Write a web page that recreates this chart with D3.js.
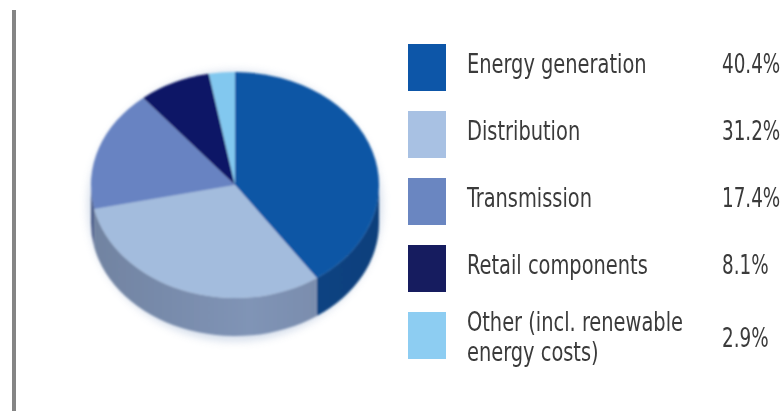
<!DOCTYPE html>
<html>
<head>
<meta charset="utf-8">
<script src="https://cdn.jsdelivr.net/npm/d3@7"></script>
<style>
  html, body { margin: 0; padding: 0; background: #ffffff; }
  svg { display: block; }
  .lbl { font-family: "DejaVu Sans Condensed", "Liberation Sans Narrow", "Roboto", sans-serif; fill: #3a3a3a; }
</style>
</head>
<body>
<svg id="chart" width="784" height="411"></svg>
<script>
// Cost components of the electricity price (share, %)
const categories = ["Energy generation", "Distribution", "Transmission", "Retail components", "Other (incl. renewable energy costs)"];
const labelLines = [["Energy generation"], ["Distribution"], ["Transmission"], ["Retail components"], ["Other (incl. renewable", "energy costs)"]];
const shares = [40.4, 31.2, 17.4, 8.1, 2.9];
const valueLabels = ["40.4%", "31.2%", "17.4%", "8.1%", "2.9%"];
const topColors = ["#0f56a5", "#a3bcdd", "#6883c2", "#111866", "#82c8ef"];
const sideColors = ["#0b4688", "#8094b6", "#56699c", "#0c1150", "#67a6c8"];
const swatchColors = ["#0b57a8", "#a8c1e3", "#6a86c1", "#121a5e", "#8dcdf2"];

const svg = d3.select("#chart");
const defs = svg.append("defs");

// soft edge + glow round the pie
const soft = defs.append("filter").attr("id", "soft").attr("x", "-10%").attr("y", "-10%").attr("width", "120%").attr("height", "120%");
soft.append("feGaussianBlur").attr("stdDeviation", 0.8);
const glow = defs.append("filter").attr("id", "glow").attr("x", "-20%").attr("y", "-20%").attr("width", "140%").attr("height", "140%");
glow.append("feGaussianBlur").attr("stdDeviation", 4);
const txtBlur = defs.append("filter").attr("id", "txtBlur");
txtBlur.append("feGaussianBlur").attr("stdDeviation", 0.45);

// left rule
svg.append("rect").attr("x", 12).attr("y", 10).attr("width", 4).attr("height", 401).attr("fill", "#858585");

// tilted pie geometry
const cx = 235, cy = 185, rx = 144, ry = 113, depth = 38;
const pie = d3.pie().sort(null).value(d => d.v).startAngle(0).endAngle(2 * Math.PI);
const data = categories.map((c, i) => ({ c, v: shares[i], i }));
const arcs = pie(data);

const g = svg.append("g");

// faint halo under the pie
g.append("ellipse")
  .attr("cx", cx).attr("cy", cy + depth / 2 + 2)
  .attr("rx", rx + 3).attr("ry", ry + depth / 2 + 3)
  .attr("fill", "#9fb3d2").attr("opacity", 0.45)
  .attr("filter", "url(#glow)");

const pieG = g.append("g").attr("filter", "url(#soft)");

// point on the top ellipse for an angle measured clockwise from 12 o'clock
const pt = (a, dy = 0) => [cx + rx * Math.sin(a), cy - ry * Math.cos(a) + dy];

// outer side walls (only the front half, angles between pi/2 and 3pi/2)
function sidePath(a0, a1) {
  const s = Math.max(a0, Math.PI / 2), e = Math.min(a1, 3 * Math.PI / 2);
  if (e <= s) return null;
  const p0 = pt(s), p1 = pt(e), q1 = pt(e, depth), q0 = pt(s, depth);
  const large = (e - s) > Math.PI ? 1 : 0;
  return `M${p0[0]},${p0[1]} A${rx},${ry} 0 ${large} 1 ${p1[0]},${p1[1]} L${q1[0]},${q1[1]} A${rx},${ry} 0 ${large} 0 ${q0[0]},${q0[1]} Z`;
}

// gradient per side wall for a little shading
arcs.forEach((d, i) => {
  const lg = defs.append("linearGradient").attr("id", "side" + i)
    .attr("gradientUnits", "userSpaceOnUse")
    .attr("x1", cx - rx).attr("y1", 0).attr("x2", cx + rx).attr("y2", 0);
  const base = d3.color(sideColors[i]);
  lg.append("stop").attr("offset", "0%").attr("stop-color", base.darker(0.35).formatHex());
  lg.append("stop").attr("offset", "55%").attr("stop-color", base.formatHex());
  lg.append("stop").attr("offset", "100%").attr("stop-color", base.darker(0.25).formatHex());
});

pieG.selectAll("path.side")
  .data(arcs.filter(d => sidePath(d.startAngle, d.endAngle)))
  .join("path")
  .attr("class", "side")
  .attr("d", d => sidePath(d.startAngle, d.endAngle))
  .attr("fill", d => `url(#side${d.index})`);

// top faces: a flat d3 arc squashed vertically
const arc = d3.arc().innerRadius(0).outerRadius(rx);
pieG.append("g")
  .attr("transform", `translate(${cx},${cy}) scale(1,${ry / rx})`)
  .selectAll("path.top")
  .data(arcs)
  .join("path")
  .attr("class", "top")
  .attr("d", arc)
  .attr("fill", d => topColors[d.index]);

// legend
const rowY = d3.scalePoint().domain(categories).range([44, 312]);
const swW = 38, swH = 47;
const fontSize = 26;
const labelSx = 0.83, valueSx = 0.785;   // condensed lettering
const legend = svg.append("g").attr("filter", "url(#txtBlur)");

const rows = legend.selectAll("g.row")
  .data(categories)
  .join("g")
  .attr("class", "row")
  .attr("transform", c => `translate(0,${rowY(c)})`);

rows.append("rect")
  .attr("x", 408).attr("y", 0)
  .attr("width", swW).attr("height", swH)
  .attr("fill", (c, i) => swatchColors[i]);

rows.each(function (c, i) {
  const row = d3.select(this);
  const lines = labelLines[i];
  const lh = 30.5;
  const first = lines.length > 1 ? 19 : 29;
  const t = row.append("text").attr("class", "lbl")
    .attr("transform", `translate(467,0) scale(${labelSx},1)`)
    .attr("font-size", fontSize);
  lines.forEach((ln, k) => {
    t.append("tspan").attr("x", 0).attr("y", first + k * lh).text(ln);
  });
  const vy = lines.length > 1 ? 35 : 29;
  row.append("text").attr("class", "lbl")
    .attr("transform", `translate(722,${vy}) scale(${valueSx},1)`)
    .attr("font-size", fontSize)
    .text(valueLabels[i]);
});
</script>
</body>
</html>
